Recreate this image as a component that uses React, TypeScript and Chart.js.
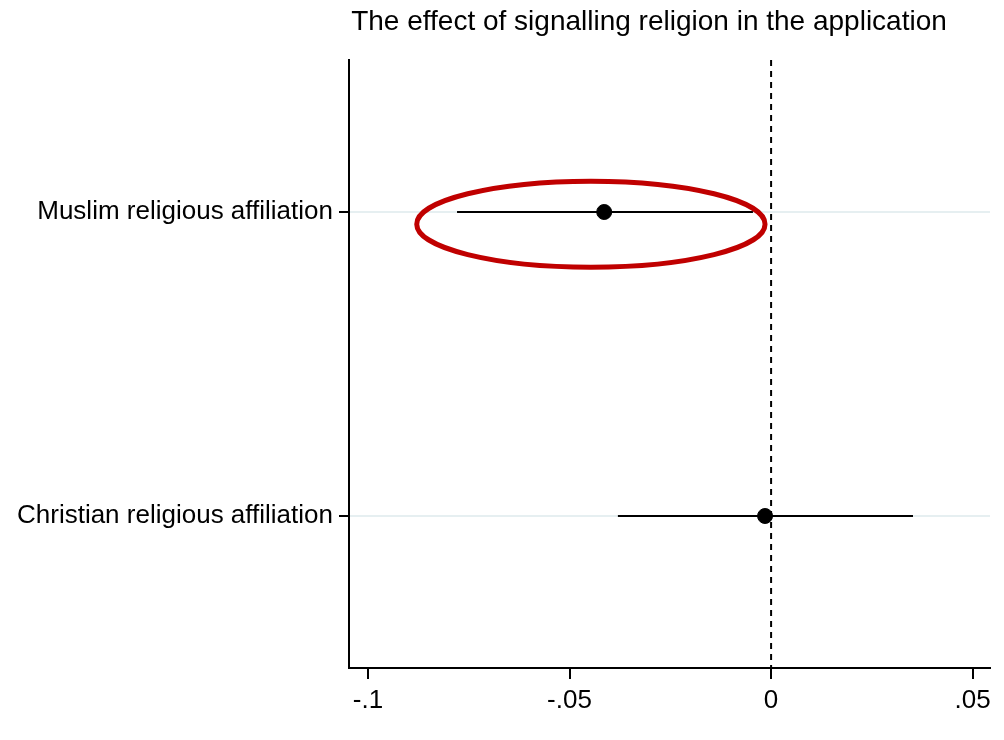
import React, { useEffect, useRef } from "react";
import { Chart, registerables } from "chart.js";

Chart.register(...registerables);

const categories = ["Muslim religious affiliation", "Christian religious affiliation"];
const categoryPositions = [0.75, 0.25];
const estimates = [-0.0414, -0.0015];
const ciLower = [-0.0779, -0.038];
const ciUpper = [-0.0045, 0.0352];
const xTickValues = [-0.1, -0.05, 0, 0.05];
const xTickLabels = ["-.1", "-.05", "0", ".05"];
const titleText = "The effect of signalling religion in the application";
// highlight ellipse (data coordinates)
const ellipseCenter = [-0.0447, 0.73];
const ellipseRadii = [0.0432, 0.0707];

const FONT = "'Liberation Sans', Arial, sans-serif";

const overlayPlugin = {
  id: "overlay",
  beforeDatasetsDraw(chart: any) {
    const { ctx, chartArea, scales } = chart;
    const x = scales.x;
    const y = scales.y;
    ctx.save();
    const x0 = x.getPixelForValue(0);
    ctx.strokeStyle = "#000";
    ctx.lineWidth = 2;
    ctx.setLineDash([6, 5]);
    ctx.beginPath();
    ctx.moveTo(x0, chartArea.top);
    ctx.lineTo(x0, chartArea.bottom);
    ctx.stroke();
    ctx.setLineDash([]);
    ctx.lineWidth = 2;
    for (let i = 0; i < estimates.length; i++) {
      const py = y.getPixelForValue(categoryPositions[i]);
      ctx.beginPath();
      ctx.moveTo(x.getPixelForValue(ciLower[i]), py);
      ctx.lineTo(x.getPixelForValue(ciUpper[i]), py);
      ctx.stroke();
    }
    ctx.restore();
  },
  afterDatasetsDraw(chart: any) {
    const { ctx, scales } = chart;
    const x = scales.x;
    const y = scales.y;
    ctx.save();
    const cx = x.getPixelForValue(ellipseCenter[0]);
    const cy = y.getPixelForValue(ellipseCenter[1]);
    const rx = Math.abs(x.getPixelForValue(ellipseCenter[0] + ellipseRadii[0]) - cx);
    const ry = Math.abs(y.getPixelForValue(ellipseCenter[1] + ellipseRadii[1]) - cy);
    ctx.strokeStyle = "#c00000";
    ctx.lineWidth = 5;
    ctx.beginPath();
    ctx.ellipse(cx, cy, rx, ry, 0, 0, Math.PI * 2);
    ctx.stroke();
    ctx.fillStyle = "#000";
    ctx.font = `28px ${FONT}`;
    ctx.textAlign = "center";
    ctx.textBaseline = "middle";
    ctx.fillText(titleText, 649, 22);
    ctx.restore();
  },
};

export default function App() {
  const ref = useRef<HTMLCanvasElement | null>(null);
  useEffect(() => {
    if (!ref.current) return;
    const chart = new Chart(ref.current, {
      type: "scatter",
      data: {
        datasets: [
          {
            data: estimates.map((v, i) => ({ x: v, y: categoryPositions[i] })),
            backgroundColor: "#000",
            borderColor: "#000",
            pointRadius: 7.5,
            pointHoverRadius: 7.5,
          },
        ],
      },
      options: {
        responsive: false,
        animation: false,
        events: [],
        layout: { padding: { top: 60, right: 14, left: 0, bottom: 0 } },
        plugins: { legend: { display: false }, tooltip: { enabled: false }, title: { display: false } },
        scales: {
          x: {
            type: "linear",
            min: -0.1047,
            max: 0.0543,
            afterBuildTicks: (axis: any) => {
              axis.ticks = xTickValues.map((v) => ({ value: v }));
            },
            afterFit: (axis: any) => {
              axis.height = 72;
            },
            ticks: {
              callback: (v: any) => {
                const idx = xTickValues.findIndex((t) => Math.abs(t - v) < 1e-9);
                return idx >= 0 ? xTickLabels[idx] : "";
              },
              color: "#000",
              font: { family: FONT, size: 26 },
              padding: 6,
              maxRotation: 0,
              autoSkip: false,
            },
            grid: { drawOnChartArea: false, tickLength: 11, color: "#000", lineWidth: 2 },
            border: { display: true, color: "#000", width: 2 },
          },
          y: {
            type: "linear",
            min: 0,
            max: 1,
            afterBuildTicks: (axis: any) => {
              axis.ticks = categoryPositions.map((v) => ({ value: v }));
            },
            afterFit: (axis: any) => {
              axis.width = 349;
            },
            ticks: {
              callback: (v: any) => {
                const idx = categoryPositions.findIndex((t) => Math.abs(t - v) < 1e-9);
                return idx >= 0 ? categories[idx] : "";
              },
              color: "#000",
              font: { family: FONT, size: 26 },
              padding: 6,
              autoSkip: false,
            },
            grid: { color: "#e6eff1", lineWidth: 2, tickLength: 10, tickColor: "#000", tickWidth: 2 },
            border: { display: true, color: "#000", width: 2 },
          },
        },
      },
      plugins: [overlayPlugin],
    } as any);
    return () => chart.destroy();
  }, []);
  return (
    <div style={{ position: "absolute", left: 0, top: 0, width: 1004, height: 740, background: "#fff" }}>
      <canvas ref={ref} width={1004} height={740} style={{ width: 1004, height: 740 }} />
    </div>
  );
}
